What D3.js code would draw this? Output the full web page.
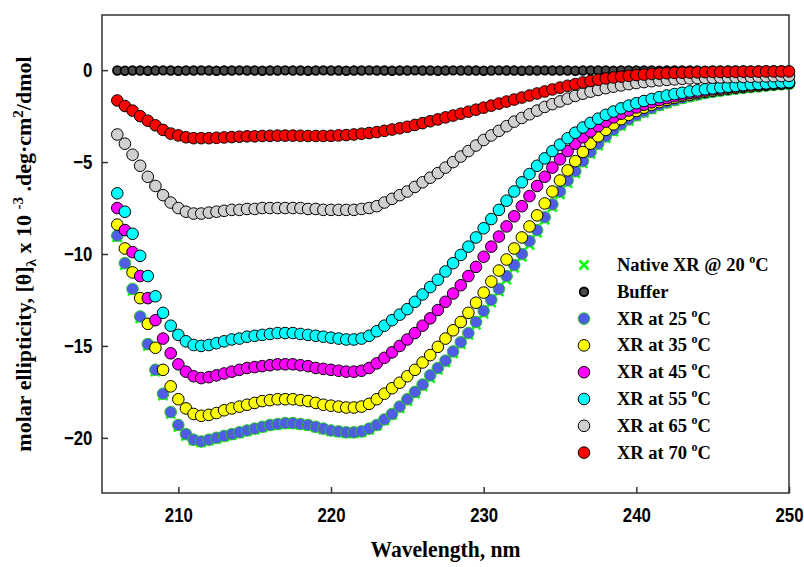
<!DOCTYPE html>
<html lang='en'>
<head>
  <meta charset="utf-8" />
  <title>CD spectra of XR</title>
  <script src="https://d3js.org/d3.v7.min.js"></script>
  <style>
    body { margin: 0; background: #fff; }
    text { font-family: "Liberation Serif", "Times New Roman", serif; font-weight: bold; fill: #000; }
    .tick text { font-family: "Liberation Sans", Arial, sans-serif; font-size: 21px; font-weight: bold; }
    .tick line { stroke: #333; stroke-width: 1.5; }
  </style>
</head>
<body>
<script>
// wavelength (nm), one reading every 0.5 nm
var wavelength = [206, 206.5, 207, 207.5, 208, 208.5, 209, 209.5, 210, 210.5,
  211, 211.5, 212, 212.5, 213, 213.5, 214, 214.5, 215, 215.5,
  216, 216.5, 217, 217.5, 218, 218.5, 219, 219.5, 220, 220.5,
  221, 221.5, 222, 222.5, 223, 223.5, 224, 224.5, 225, 225.5,
  226, 226.5, 227, 227.5, 228, 228.5, 229, 229.5, 230, 230.5,
  231, 231.5, 232, 232.5, 233, 233.5, 234, 234.5, 235, 235.5,
  236, 236.5, 237, 237.5, 238, 238.5, 239, 239.5, 240, 240.5,
  241, 241.5, 242, 242.5, 243, 243.5, 244, 244.5, 245, 245.5,
  246, 246.5, 247, 247.5, 248, 248.5, 249, 249.5, 250];

var native20 = [-9.1, -10.6, -12.0, -13.5, -15.0, -16.4, -17.7, -18.7, -19.4, -19.9,
  -20.15, -20.25, -20.15, -20.05, -19.95, -19.85, -19.75, -19.65, -19.55, -19.45,
  -19.35, -19.3, -19.25, -19.25, -19.3, -19.35, -19.45, -19.55, -19.65, -19.7,
  -19.75, -19.75, -19.7, -19.55, -19.35, -19.05, -18.75, -18.4, -18.0, -17.6,
  -17.2, -16.75, -16.3, -15.9, -15.4, -14.9, -14.4, -13.85, -13.25, -12.65,
  -12.05, -11.4, -10.75, -10.15, -9.5, -8.85, -8.15, -7.45, -6.75, -6.15,
  -5.62, -5.07, -4.56, -4.1, -3.7, -3.34, -3.03, -2.76, -2.52, -2.32,
  -2.13, -1.96, -1.81, -1.68, -1.56, -1.46, -1.37, -1.28, -1.21, -1.14,
  -1.08, -1.03, -0.98, -0.93, -0.89, -0.85, -0.81, -0.78, -0.75];

var buffer = [-0.02, -0.03, -0.02, -0.02, -0.03, -0.02, -0.01, -0.02, -0.03, -0.02,
  -0.02, -0.01, -0.02, -0.03, -0.02, -0.02, -0.01, -0.02, -0.02, -0.03,
  -0.02, -0.02, -0.01, -0.02, -0.02, -0.03, -0.02, -0.01, -0.02, -0.02,
  -0.03, -0.02, -0.02, -0.01, -0.02, -0.02, -0.03, -0.02, -0.02, -0.01,
  -0.02, -0.02, -0.03, -0.02, -0.01, -0.02, -0.02, -0.02, -0.03, -0.02,
  -0.01, -0.02, -0.02, -0.03, -0.02, -0.02, -0.01, -0.02, -0.02, -0.02,
  -0.03, -0.02, -0.01, -0.02, -0.02, -0.03, -0.02, -0.02, -0.01, -0.02,
  -0.02, -0.03, -0.02, -0.02, -0.01, -0.02, -0.02, -0.03, -0.02, -0.02,
  -0.01, -0.02, -0.02, -0.03, -0.02, -0.02, -0.01, -0.02, -0.02];

var xr25 = [-9.0, -10.5, -11.9, -13.4, -14.9, -16.3, -17.6, -18.6, -19.3, -19.8,
  -20.1, -20.2, -20.1, -20.0, -19.9, -19.8, -19.7, -19.6, -19.5, -19.4,
  -19.3, -19.25, -19.2, -19.2, -19.25, -19.3, -19.4, -19.5, -19.6, -19.65,
  -19.7, -19.7, -19.65, -19.5, -19.3, -19.0, -18.7, -18.3, -17.9, -17.5,
  -17.1, -16.6, -16.2, -15.8, -15.3, -14.8, -14.3, -13.7, -13.1, -12.5,
  -11.9, -11.2, -10.6, -10.0, -9.3, -8.7, -8.0, -7.3, -6.6, -6.0,
  -5.5, -4.95, -4.45, -4.0, -3.6, -3.25, -2.95, -2.68, -2.45, -2.25,
  -2.07, -1.9, -1.76, -1.63, -1.52, -1.42, -1.33, -1.25, -1.18, -1.12,
  -1.06, -1.01, -0.96, -0.92, -0.88, -0.84, -0.8, -0.77, -0.74];

var xr35 = [-8.4, -9.7, -11.0, -12.4, -13.8, -15.1, -16.3, -17.2, -17.9, -18.4,
  -18.7, -18.8, -18.75, -18.65, -18.5, -18.4, -18.3, -18.2, -18.1, -18.0,
  -17.95, -17.9, -17.9, -17.9, -17.95, -18.0, -18.1, -18.2, -18.25, -18.3,
  -18.35, -18.35, -18.3, -18.15, -17.9, -17.6, -17.3, -17.0, -16.65, -16.3,
  -15.9, -15.5, -15.05, -14.6, -14.15, -13.7, -13.2, -12.65, -12.1, -11.5,
  -10.9, -10.3, -9.7, -9.1, -8.5, -7.9, -7.25, -6.6, -6.0, -5.45,
  -4.95, -4.45, -4.0, -3.6, -3.25, -2.95, -2.67, -2.43, -2.22, -2.04,
  -1.88, -1.74, -1.62, -1.51, -1.41, -1.33, -1.25, -1.18, -1.12, -1.06,
  -1.01, -0.96, -0.92, -0.88, -0.84, -0.8, -0.77, -0.74, -0.71];

var xr45 = [-7.5, -8.7, -9.9, -11.2, -12.4, -13.6, -14.6, -15.4, -16.0, -16.4,
  -16.65, -16.75, -16.7, -16.6, -16.5, -16.4, -16.3, -16.2, -16.15, -16.1,
  -16.05, -16.0, -16.0, -16.0, -16.05, -16.1, -16.2, -16.25, -16.3, -16.35,
  -16.4, -16.4, -16.35, -16.2, -15.95, -15.65, -15.35, -15.0, -14.65, -14.3,
  -13.9, -13.5, -13.05, -12.6, -12.15, -11.7, -11.2, -10.7, -10.15, -9.6,
  -9.05, -8.5, -7.95, -7.4, -6.85, -6.3, -5.8, -5.3, -4.85, -4.4,
  -4.0, -3.65, -3.33, -3.05, -2.8, -2.57, -2.37, -2.19, -2.03, -1.88,
  -1.75, -1.63, -1.52, -1.42, -1.33, -1.25, -1.18, -1.11, -1.05, -1.0,
  -0.95, -0.9, -0.86, -0.82, -0.79, -0.76, -0.73, -0.7, -0.68];

var xr55 = [-6.7, -7.7, -8.9, -10.1, -11.2, -12.3, -13.2, -13.9, -14.4, -14.75,
  -14.95, -15.0, -14.95, -14.85, -14.75, -14.65, -14.6, -14.5, -14.45, -14.4,
  -14.35, -14.3, -14.3, -14.3, -14.35, -14.4, -14.45, -14.5, -14.55, -14.6,
  -14.65, -14.65, -14.6, -14.45, -14.2, -13.9, -13.6, -13.3, -13.0, -12.6,
  -12.2, -11.8, -11.4, -10.95, -10.5, -10.05, -9.6, -9.1, -8.6, -8.1,
  -7.6, -7.1, -6.6, -6.1, -5.65, -5.2, -4.8, -4.4, -4.05, -3.7,
  -3.4, -3.12, -2.87, -2.64, -2.43, -2.25, -2.08, -1.93, -1.8, -1.68,
  -1.57, -1.47, -1.38, -1.3, -1.23, -1.16, -1.1, -1.04, -0.99, -0.94,
  -0.9, -0.86, -0.82, -0.78, -0.75, -0.72, -0.69, -0.67, -0.65];

var xr65 = [-3.5, -4.0, -4.6, -5.2, -5.8, -6.3, -6.8, -7.2, -7.5, -7.7,
  -7.8, -7.8, -7.75, -7.7, -7.65, -7.6, -7.6, -7.55, -7.55, -7.5,
  -7.5, -7.5, -7.5, -7.5, -7.5, -7.55, -7.55, -7.6, -7.6, -7.6,
  -7.6, -7.6, -7.55, -7.5, -7.4, -7.2, -7.0, -6.8, -6.6, -6.35,
  -6.1, -5.85, -5.6, -5.3, -5.0, -4.7, -4.4, -4.1, -3.8, -3.55,
  -3.3, -3.05, -2.8, -2.6, -2.4, -2.2, -2.0, -1.85, -1.7, -1.55,
  -1.4, -1.28, -1.17, -1.07, -0.98, -0.9, -0.83, -0.76, -0.7, -0.65,
  -0.6, -0.56, -0.53, -0.5, -0.47, -0.45, -0.43, -0.42, -0.41, -0.4,
  -0.39, -0.38, -0.37, -0.36, -0.35, -0.34, -0.33, -0.32, -0.31];

var xr70 = [-1.65, -1.95, -2.2, -2.5, -2.75, -3.0, -3.25, -3.45, -3.55, -3.65,
  -3.7, -3.7, -3.7, -3.68, -3.66, -3.64, -3.62, -3.6, -3.6, -3.58,
  -3.57, -3.56, -3.56, -3.56, -3.57, -3.58, -3.58, -3.58, -3.57, -3.55,
  -3.53, -3.5, -3.46, -3.42, -3.37, -3.3, -3.23, -3.16, -3.08, -2.98,
  -2.88, -2.78, -2.68, -2.57, -2.47, -2.37, -2.26, -2.15, -2.04, -1.93,
  -1.82, -1.71, -1.6, -1.49, -1.38, -1.27, -1.16, -1.05, -0.95, -0.85,
  -0.76, -0.67, -0.59, -0.52, -0.45, -0.4, -0.35, -0.31, -0.27, -0.24,
  -0.21, -0.19, -0.17, -0.15, -0.14, -0.13, -0.12, -0.11, -0.1, -0.1,
  -0.09, -0.09, -0.08, -0.08, -0.08, -0.07, -0.07, -0.07, -0.07];

var seriesNames = ["Native XR @ 20 ", "Buffer", "XR at 25 ", "XR at 35 ", "XR at 45 ",
                   "XR at 55 ", "XR at 65 ", "XR at 70 "];
var xTicks = [210, 220, 230, 240, 250];
var yTicks = [-20, -15, -10, -5, 0];

// marker styles, same order as seriesNames
var fills   = ["#00ff00", "#4a4a4a", "#4f5ce6", "#ffff00", "#ff00ff", "#00ffff", "#d0d0d0", "#ff0000"];
var strokes = ["#00ff00", "#000", "#22c822", "#000", "#000", "#000", "#000", "#000"];

var w = 804;
var h = 567;
var pLeft = 102, pRight = 789, pTop = 15, pBottom = 493;

var x = d3.scaleLinear().domain([205, 250]).range([pLeft, pRight]);
var y = d3.scaleLinear().domain([-23, 3]).range([pBottom, pTop]);

var svg = d3.select("body")
            .append("svg")
            .attr("width", w)
            .attr("height", h);

// axes, ticks pointing inwards
var xAxis = d3.axisBottom(x).tickValues(xTicks).tickSizeInner(-6).tickSizeOuter(0).tickPadding(14);
var yAxis = d3.axisLeft(y).tickValues(yTicks).tickSizeInner(-6).tickSizeOuter(0).tickPadding(12);

var gx = svg.append("g").attr("transform", "translate(0," + pBottom + ")").call(xAxis);
var gy = svg.append("g").attr("transform", "translate(" + pLeft + ",0)").call(yAxis);
gx.select(".domain").remove();
gy.select(".domain").remove();
gx.selectAll(".tick text").attr("transform", "scale(0.8,1)");
gy.selectAll(".tick text").attr("transform", "scale(0.8,1)");

svg.append("rect")
   .attr("x", pLeft).attr("y", pTop)
   .attr("width", pRight - pLeft).attr("height", pBottom - pTop)
   .attr("fill", "none").attr("stroke", "#333").attr("stroke-width", 1.5);

var all = [native20, buffer, xr25, xr35, xr45, xr55, xr65, xr70];

function drawMarker(g, i, cx, cy) {
  if (i == 0) {
    g.append("path")
     .attr("d", "M" + (cx - 4.5) + "," + (cy - 4.5) + "L" + (cx + 4.5) + "," + (cy + 4.5) +
                "M" + (cx - 4.5) + "," + (cy + 4.5) + "L" + (cx + 4.5) + "," + (cy - 4.5))
     .attr("stroke", strokes[0]).attr("stroke-width", 2.5);
  } else {
    g.append("circle")
     .attr("cx", cx).attr("cy", cy)
     .attr("r", i == 1 ? 4.3 : 5.8)
     .attr("fill", fills[i])
     .attr("stroke", strokes[i])
     .attr("stroke-width", i == 1 ? 1.8 : 1);
  }
}

var plot = svg.append("g");
all.forEach(function(vals, i) {
  var g = plot.append("g");
  vals.forEach(function(v, j) {
    drawMarker(g, i, x(wavelength[j]), y(v));
  });
});

// legend
var legend = svg.append("g");
seriesNames.forEach(function(name, i) {
  var ly = 265 + i * 26.8;
  drawMarker(legend, i, 584, ly);
  var t = legend.append("text")
                .attr("x", 617).attr("y", ly + 6)
                .style("font-size", "18.5px")
                .text(name);
  if (i != 1) {
    t.append("tspan").attr("dy", -8).style("font-size", "12px").text("o");
    t.append("tspan").attr("dy", 8).text("C");
  }
});

// axis titles
svg.append("text")
   .attr("x", (pLeft + pRight) / 2).attr("y", 557)
   .attr("text-anchor", "middle")
   .attr("transform", "translate(" + ((pLeft + pRight) / 2) + ",0) scale(0.9,1) translate(" + (-(pLeft + pRight) / 2) + ",0)")
   .style("font-size", "24px")
   .text("Wavelength, nm");

var yt = svg.append("text")
   .attr("transform", "translate(31," + ((pTop + pBottom) / 2) + ") rotate(-90)")
   .attr("text-anchor", "middle")
   .style("font-size", "22px");
yt.append("tspan").text("molar ellipticity, [\u03b8]");
yt.append("tspan").attr("dy", 5).style("font-size", "15px").text("\u03bb");
yt.append("tspan").attr("dy", -5).text(" x 10 ");
yt.append("tspan").attr("dy", -8).style("font-size", "15px").text("-3");
yt.append("tspan").attr("dy", 8).text(" .deg\u00b7cm");
yt.append("tspan").attr("dy", -8).style("font-size", "15px").text("2");
yt.append("tspan").attr("dy", 8).text("/dmol");
</script>
</body>
</html>
